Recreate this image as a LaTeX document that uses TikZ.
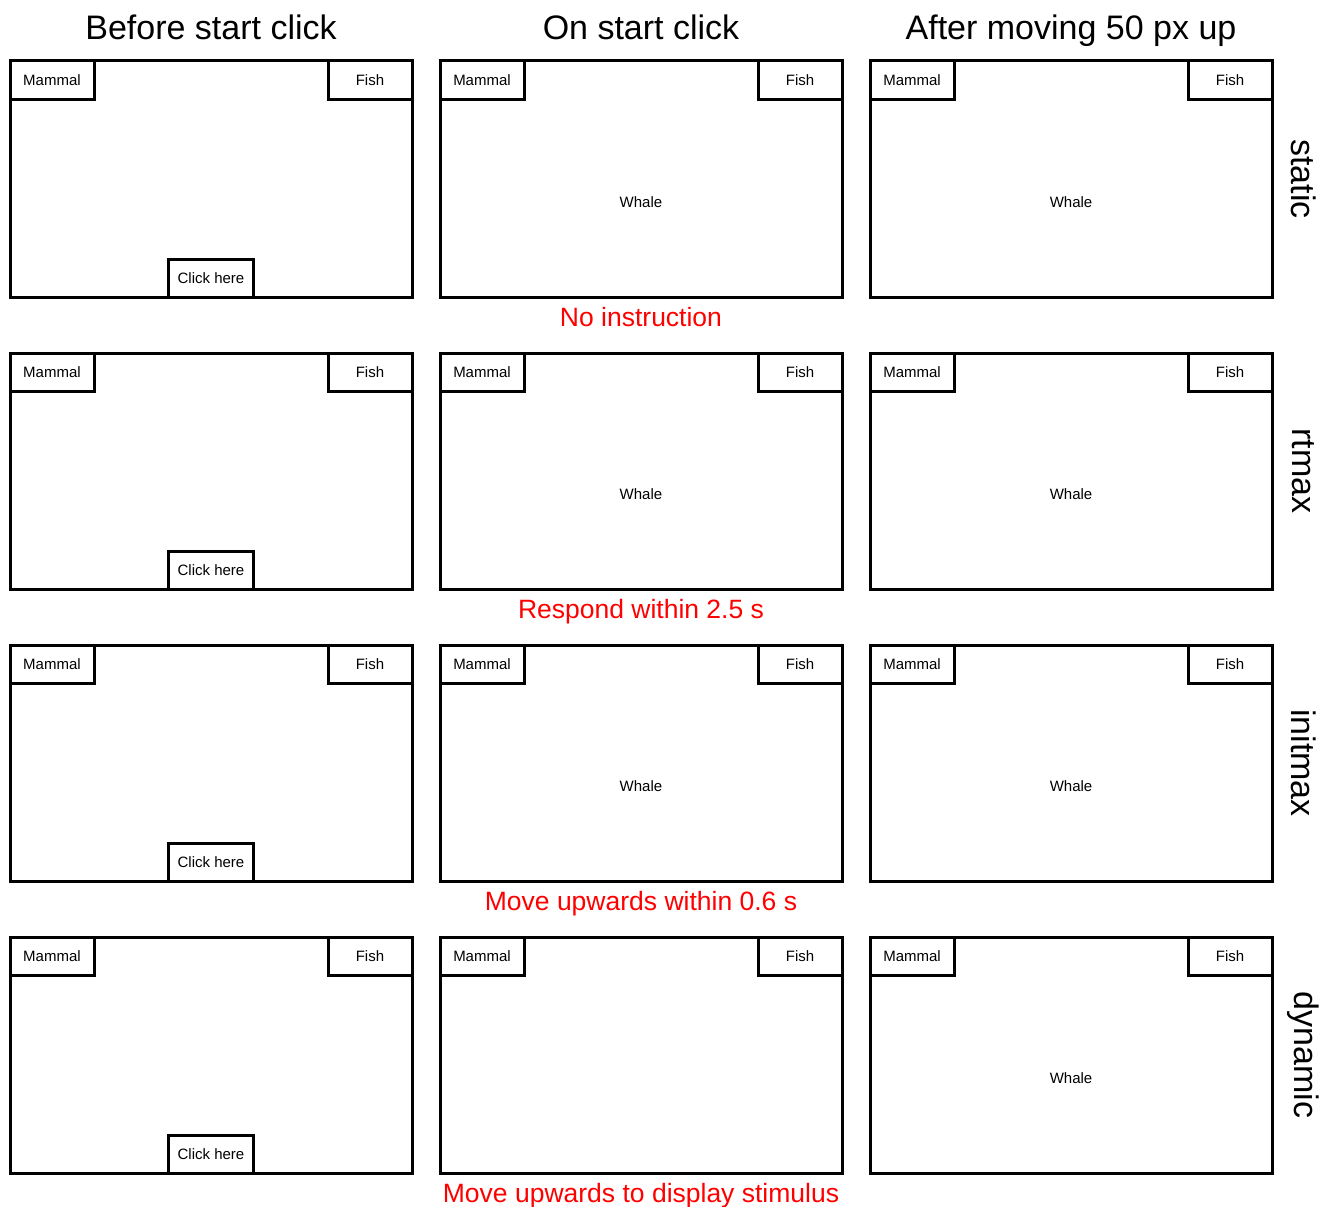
\documentclass[tikz,border=0pt]{standalone}
\usepackage{fontspec}
\setmainfont{Liberation Sans}
\usetikzlibrary{positioning}

\begin{document}
\begin{tikzpicture}[
    x=1pt,y=-1pt,
    screen/.style={rectangle,draw=black,line width=3pt,minimum width=402pt,minimum height=236pt,inner sep=0pt},
    btn/.style={rectangle,draw=black,line width=3pt,fill=white,minimum width=84pt,minimum height=38pt,inner sep=0pt,font=\fontsize{15}{18}\selectfont},
    word/.style={font=\fontsize{15}{18}\selectfont},
    head/.style={anchor=base,font=\fontsize{34}{40}\selectfont},
    note/.style={anchor=base,text=red,font=\fontsize{26.5}{32}\selectfont},
    cond/.style={rotate=-90,font=\fontsize{34}{40}\selectfont}
  ]
  \useasboundingbox (0,0) rectangle (1331,1207);
  % one row of screens per condition
  \foreach \r/\cname/\msg in {1/static/No instruction,2/rtmax/Respond within 2.5 s,3/initmax/Move upwards within 0.6 s,4/dynamic/Move upwards to display stimulus}{
    \foreach \c in {1,2,3}{
      \node[screen] (s\r\c) at ({211+430*(\c-1)},{179+292*(\r-1)}) {};
      \node[btn,anchor=north west] (m\r\c) at (s\r\c.north west) {Mammal};
      \node[btn,anchor=north east] (f\r\c) at (s\r\c.north east) {Fish};
    }
    \node[btn,anchor=south,minimum width=85pt] (k\r) at (s\r1.south) {Click here};
    \node[word] (w\r3) at ([yshift=-23pt]s\r3.center) {Whale};
    \node[note] (n\r) at ([yshift=-28pt]s\r2.south) {\msg};
    \node[cond] (c\r) at ([xshift=30pt]s\r3.east) {\cname};
  }
  % stimulus shown on start click, except for dynamic
  \foreach \r in {1,2,3}
    \node[word] (w\r2) at ([yshift=-23pt]s\r2.center) {Whale};
  % column titles
  \node[head] (h1) at ([yshift=20pt]s11.north) {Before start click};
  \node[head] (h2) at ([yshift=20pt]s12.north) {On start click};
  \node[head] (h3) at ([yshift=20pt]s13.north) {After moving 50 px up};
\end{tikzpicture}
\end{document}
